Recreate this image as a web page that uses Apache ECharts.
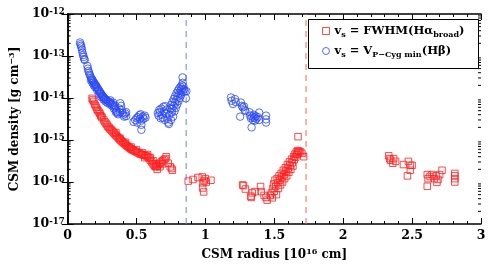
<!DOCTYPE html>
<html><head><meta charset="utf-8">
<script src="https://cdn.jsdelivr.net/npm/echarts@6/dist/echarts.min.js"></script>
<style>html,body{margin:0;padding:0;background:#fff}#c{width:491px;height:266px}</style>
</head><body><div id="c"></div>
<script>
// ---- data (CSM radius in 1e16 cm, density in g cm^-3) ----
const halphaRadius = [
 0.177,0.183,0.190,0.196,0.202,0.208,0.214,0.220,0.228,0.235,0.240,0.245,0.250,0.262,0.270,0.278,0.285,0.292,0.300,0.307,
 0.315,0.322,0.330,0.337,0.345,0.352,0.360,0.368,0.375,0.383,0.390,0.398,0.405,0.413,0.420,0.428,0.435,0.443,0.450,0.458,
 0.465,0.473,0.480,0.490,0.500,0.510,0.520,0.530,0.540,0.550,0.560,0.570,0.580,0.590,0.600,0.610,0.620,0.628,0.635,0.642,
 0.650,0.660,0.670,0.680,0.690,0.700,0.710,0.715,0.730,0.745,0.755,0.760,
 0.350,0.380,0.420,0.460,0.500,0.540,0.580,0.560,0.620,0.600,0.640,0.650,0.670,0.690,
 0.875,0.910,0.946,0.977,0.990,0.982,0.980,0.987,1.006,1.040,1.000,
 1.270,1.276,1.290,1.330,1.340,1.333,1.360,1.400,1.405,1.426,1.448,1.440,1.470,1.480,1.485,1.490,1.495,1.500,1.505,1.510,
 1.515,1.520,1.525,1.530,1.535,1.540,1.545,1.550,1.555,1.560,1.565,1.570,1.575,1.580,1.585,1.590,1.595,1.600,1.605,1.610,
 1.615,1.620,1.625,1.630,1.635,1.640,1.645,1.650,1.655,1.660,1.665,1.670,1.675,1.680,1.690,1.700,1.672,1.713,
 2.330,2.337,2.344,2.360,2.366,2.380,2.437,2.473,2.487,2.500,2.487,2.466,2.610,2.616,2.630,2.645,2.660,2.674,2.688,2.700,
 2.610,2.680,2.717,2.810,2.810,2.810,2.810
];
const halphaDensity = [
 9.8e-15,9.0e-15,8.3e-15,7.2e-15,6.6e-15,6.0e-15,5.4e-15,5.0e-15,4.6e-15,4.2e-15,3.8e-15,3.6e-15,3.4e-15,3.0e-15,2.7e-15,2.5e-15,2.3e-15,2.1e-15,2.0e-15,1.85e-15,
 1.75e-15,1.65e-15,1.55e-15,1.45e-15,1.35e-15,1.28e-15,1.2e-15,1.13e-15,1.06e-15,1.0e-15,9.5e-16,9.0e-16,8.6e-16,8.2e-16,7.8e-16,7.4e-16,7.1e-16,6.8e-16,6.5e-16,6.2e-16,
 6.0e-16,5.8e-16,5.6e-16,5.4e-16,5.2e-16,5.0e-16,4.8e-16,4.6e-16,4.5e-16,4.4e-16,4.3e-16,4.2e-16,4.0e-16,3.7e-16,3.3e-16,3.0e-16,2.7e-16,2.5e-16,2.35e-16,2.3e-16,
 2.4e-16,2.6e-16,2.8e-16,3.0e-16,3.2e-16,3.4e-16,3.6e-16,4.0e-16,2.8e-16,2.3e-16,2.1e-16,1.9e-16,
 1.5e-15,1.1e-15,8.8e-16,6.8e-16,5.8e-16,5.0e-16,4.5e-16,3.8e-16,3.2e-16,3.8e-16,2.7e-16,2.0e-16,2.3e-16,2.7e-16,
 1.05e-16,1.15e-16,1.28e-16,1.32e-16,1.08e-16,9.5e-17,7.2e-17,5.8e-17,1.0e-16,1.1e-16,1.2e-16,
 8.5e-17,8.2e-17,6.8e-17,4.6e-17,5.5e-17,4.3e-17,5.9e-17,7.8e-17,5.9e-17,4.8e-17,3.7e-17,4.3e-17,4.8e-17,5.5e-17,4.2e-17,7.0e-17,9.0e-17,6.0e-17,1.1e-16,8.0e-17,
 5.0e-17,1.2e-16,9.5e-17,7.0e-17,1.4e-16,1.1e-16,8.5e-17,1.6e-16,1.3e-16,1.0e-16,1.9e-16,1.5e-16,1.2e-16,2.2e-16,1.8e-16,1.4e-16,2.6e-16,2.1e-16,1.7e-16,3.0e-16,
 2.5e-16,2.0e-16,3.5e-16,2.9e-16,2.4e-16,4.0e-16,3.4e-16,4.6e-16,3.9e-16,5.2e-16,4.5e-16,5.6e-16,5.0e-16,5.4e-16,5.2e-16,4.8e-16,1.2e-15,4.0e-16,
 4.2e-16,3.6e-16,3.3e-16,2.8e-16,3.6e-16,3.1e-16,2.6e-16,3.1e-16,2.5e-16,2.5e-16,1.9e-16,1.4e-16,1.5e-16,1.2e-16,1.35e-16,1.5e-16,1.2e-16,1.4e-16,1.15e-16,1.5e-16,
 7.9e-17,9.8e-17,1.9e-16,1.6e-16,1.4e-16,1.2e-16,1.0e-16
];
const hbetaRadius = [
 0.090,0.093,0.097,0.100,0.104,0.108,0.112,0.116,0.120,0.124,0.143,0.147,0.151,0.155,0.160,0.165,0.170,0.175,0.180,0.185,
 0.190,0.195,0.200,0.205,0.210,0.215,0.220,0.225,0.230,0.235,0.240,0.245,0.250,0.255,0.260,0.265,0.270,0.275,0.280,0.290,
 0.300,0.310,0.320,0.330,0.340,0.350,0.355,0.360,0.365,
 0.170,0.180,0.190,0.200,0.215,0.230,0.245,0.260,0.275,0.290,0.305,0.320,0.335,0.350,0.345,0.330,0.310,
 0.375,0.382,0.388,0.392,0.380,0.398,0.405,0.410,0.418,0.425,0.425,
 0.478,0.490,0.500,0.510,0.520,0.530,0.535,0.535,0.535,0.545,0.550,0.560,0.565,0.505,0.525,
 0.655,0.660,0.665,0.670,0.675,0.680,0.685,0.690,0.695,0.700,0.705,0.710,0.715,0.720,0.725,0.730,0.735,0.740,0.745,0.750,
 0.750,0.755,0.760,0.760,0.765,0.770,0.770,0.775,0.780,0.780,0.785,0.790,0.790,0.795,0.800,0.800,0.805,0.810,0.810,0.815,
 0.820,0.820,0.825,0.830,0.830,0.835,0.835,0.840,0.845,0.850,0.834,0.862,0.858,
 1.185,1.190,1.200,1.215,1.220,1.257,1.265,1.270,1.252,1.280,1.285,1.290,1.320,1.325,1.330,1.335,1.340,1.345,1.350,1.355,
 1.360,1.365,1.370,1.380,1.390,1.390,1.440,1.440,1.440
];
const hbetaDensity = [
 2.1e-13,1.9e-13,1.75e-13,1.6e-13,1.4e-13,1.2e-13,1.05e-13,9.5e-14,8.5e-14,8.0e-14,5.8e-14,5.0e-14,4.4e-14,4.0e-14,3.6e-14,3.3e-14,3.0e-14,2.8e-14,2.7e-14,2.5e-14,
 2.35e-14,2.2e-14,2.1e-14,2.0e-14,1.85e-14,1.75e-14,1.65e-14,1.55e-14,1.45e-14,1.38e-14,1.3e-14,1.22e-14,1.15e-14,1.1e-14,1.05e-14,1.0e-14,9.6e-15,9.3e-15,9.0e-15,8.6e-15,
 8.2e-15,7.8e-15,7.3e-15,6.8e-15,6.0e-15,5.3e-15,4.8e-15,4.4e-15,4.1e-15,
 2.6e-14,2.3e-14,2.0e-14,1.8e-14,1.5e-14,1.25e-14,1.05e-14,9.2e-15,8.2e-15,7.6e-15,7.2e-15,6.6e-15,5.6e-15,4.6e-15,6.5e-15,7.8e-15,8.8e-15,
 5.6e-15,7.5e-15,6.5e-15,5.2e-15,4.6e-15,4.4e-15,4.0e-15,3.6e-15,4.3e-15,4.6e-15,3.7e-15,
 2.7e-15,3.0e-15,3.3e-15,3.5e-15,3.9e-15,4.1e-15,2.9e-15,2.3e-15,1.75e-15,3.6e-15,3.2e-15,3.8e-15,3.4e-15,2.6e-15,3.2e-15,
 4.4e-15,3.8e-15,5.2e-15,4.6e-15,3.3e-15,5.6e-15,4.0e-15,3.4e-15,6.2e-15,4.8e-15,3.0e-15,6.4e-15,4.2e-15,5.3e-15,3.2e-15,2.6e-15,2.4e-15,4.0e-15,5.6e-15,6.8e-15,
 3.0e-15,4.6e-15,8.0e-15,5.6e-15,3.6e-15,9.5e-15,6.5e-15,4.8e-15,1.1e-14,7.8e-15,5.8e-15,1.3e-14,9.2e-15,7.0e-15,1.5e-14,1.1e-14,8.5e-15,1.7e-14,1.3e-14,1.0e-14,
 1.85e-14,1.5e-14,1.2e-14,2.0e-14,1.65e-14,2.3e-14,1.4e-14,1.9e-14,1.6e-14,1.45e-14,3.1e-14,1.45e-14,9.8e-15,
 1.03e-14,8.6e-15,7.2e-15,9.4e-15,8.0e-15,7.8e-15,6.5e-15,6.0e-15,3.6e-15,6.3e-15,5.2e-15,4.9e-15,4.6e-15,3.8e-15,3.3e-15,2.0e-15,3.6e-15,3.0e-15,4.0e-15,3.4e-15,
 2.9e-15,3.7e-15,3.2e-15,3.5e-15,4.5e-15,3.0e-15,3.8e-15,3.1e-15,2.6e-15
];
const dashedBlueX = 0.86;
const dashedRedX = 1.73;
const xTickValues = [0, 0.5, 1, 1.5, 2, 2.5, 3];
const yDecades = [-17, -16, -15, -14, -13, -12];
const yMinorMantissas = [2, 3, 4, 5, 6, 7, 8, 9];

// ---- build ----
const FONT = 'DejaVu Serif';
const RED = '#ff1e1e', BLUE = '#2a48f2';
const zip = (xs, ys) => xs.map((x, i) => [x, ys[i]]);
const yMinor = [];
yDecades.slice(0, -1).forEach(d => yMinorMantissas.forEach(m => yMinor.push([0, m * Math.pow(10, d)])));
const xMin = xTickValues[0], xMax = xTickValues[xTickValues.length - 1];
const yMin = Math.pow(10, yDecades[0]), yMax = Math.pow(10, yDecades[yDecades.length - 1]);

const labRich = {
  b: {fontFamily: FONT, fontWeight: 'bold', fontSize: 12.5, color: '#000', lineHeight: 14, verticalAlign: 'middle'},
  s: {fontFamily: FONT, fontWeight: 'bold', fontSize: 8.5, color: '#000', lineHeight: 8, verticalAlign: 'top', padding: [0,0,3,0]}
};
const nameRich = {
  a: {fontFamily: FONT, fontWeight: 'bold', fontSize: 12, color: '#000', lineHeight: 14, verticalAlign: 'middle'},
  s: {fontFamily: FONT, fontWeight: 'bold', fontSize: 8, color: '#000', lineHeight: 8, verticalAlign: 'top'}
};
const legRich = {
  m: {fontFamily: FONT, fontWeight: 'bold', fontSize: 11.5, color: '#000', lineHeight: 16, verticalAlign: 'middle'},
  sub: {fontFamily: FONT, fontWeight: 'bold', fontSize: 8, color: '#000', lineHeight: 8, verticalAlign: 'bottom'}
};
const legendText = {
  'FWHM': '{m|v}{sub|s}{m| = FWHM(Hα}{sub|broad}{m|)}',
  'PCyg': '{m|v}{sub|s}{m| = V}{sub|P−Cyg min}{m|(Hβ)}'
};

const axLine = {show: true, lineStyle: {color: '#000', width: 1.5}};
const xBase = {type: 'value', min: xMin, max: xMax, interval: 0.5,
  axisLine: axLine, splitLine: {show: false},
  axisTick: {inside: true, length: 6, lineStyle: {color: '#000', width: 1}},
  minorTick: {show: true, splitNumber: 5, length: 3, lineStyle: {color: '#000', width: 1}}};
const yBase = {type: 'log', logBase: 10, min: yMin, max: yMax,
  axisLine: axLine, splitLine: {show: false}, minorSplitLine: {show: false},
  axisTick: {inside: true, length: 6, lineStyle: {color: '#000', width: 1}}};

const vline = (name, x, color) => ({
  name: name, type: 'line', silent: true, symbol: 'none', z: 1,
  data: [[x, yMin], [x, yMax]],
  lineStyle: {color: color, type: [6, 5], width: 1}
});

const chart = echarts.init(document.getElementById('c'), null, {renderer: 'canvas'});
chart.setOption({
  animation: false,
  backgroundColor: '#fff',
  grid: {left: 63, right: 10, top: 14, bottom: 40},
  graphic: [{type: 'rect', left: 308, top: 19, z: 3, silent: true,
    shape: {width: 170, height: 49},
    style: {fill: '#fff', stroke: '#000', lineWidth: 1}}],
  xAxis: [
    Object.assign({}, xBase, {position: 'bottom',
      name: '{a|CSM radius [10}{s|16}{a| cm]}', nameLocation: 'middle', nameGap: 24,
      nameTextStyle: {rich: nameRich},
      axisLabel: {margin: 5, fontFamily: FONT, fontWeight: 'bold', fontSize: 12.5, color: '#000',
        formatter: v => String(v)}}),
    Object.assign({}, xBase, {position: 'top', axisLabel: {show: false}})
  ],
  yAxis: [
    Object.assign({}, yBase, {position: 'left',
      name: '{a|CSM density [g cm}{s|−3}{a|]}', nameLocation: 'middle', nameGap: 44, nameRotate: 90,
      nameTextStyle: {rich: nameRich},
      axisLabel: {margin: 3, rich: labRich,
        formatter: v => '{b|10}{s|' + Math.round(Math.log10(v)) + '}'}}),
    Object.assign({}, yBase, {position: 'right', axisLabel: {show: false}})
  ],
  legend: {
    orient: 'vertical', left: 322, top: 25, z: 6,
    padding: 0, itemGap: 6, itemWidth: 7, itemHeight: 7, itemTextGap: 13,
    data: [
      {name: 'FWHM', icon: 'rect', itemStyle: {color: 'rgba(0,0,0,0)', borderColor: RED, borderWidth: 1}},
      {name: 'PCyg', icon: 'circle', itemStyle: {color: 'rgba(0,0,0,0)', borderColor: BLUE, borderWidth: 1}}
    ],
    formatter: n => legendText[n],
    textStyle: {rich: legRich}
  },
  series: [
    vline('blueDash', dashedBlueX, '#6f82ee'),
    vline('redDash', dashedRedX, '#ff5f5f'),
    {name: 'FWHM', type: 'scatter', symbol: 'rect', symbolSize: 6.5, z: 2,
      data: zip(halphaRadius, halphaDensity),
      itemStyle: {color: 'rgba(0,0,0,0)', borderColor: RED, borderWidth: 1}},
    {name: 'PCyg', type: 'scatter', symbol: 'circle', symbolSize: 7.5, z: 2,
      data: zip(hbetaRadius, hbetaDensity),
      itemStyle: {color: 'rgba(0,0,0,0)', borderColor: BLUE, borderWidth: 1}},
    {name: 'minorTicks', type: 'custom', silent: true, clip: false,
      data: yMinor,
      renderItem: (params, api) => {
        const v = api.value(1);
        const pL = api.coord([xMin, v]);
        const pR = api.coord([xMax, v]);
        return {type: 'group', children: [
          {type: 'line', shape: {x1: pL[0], y1: pL[1], x2: pL[0] + 3, y2: pL[1]}, style: {stroke: '#000', lineWidth: 1}},
          {type: 'line', shape: {x1: pR[0] - 3, y1: pR[1], x2: pR[0], y2: pR[1]}, style: {stroke: '#000', lineWidth: 1}}
        ]};
      }}
  ]
});
</script>
</body></html>
